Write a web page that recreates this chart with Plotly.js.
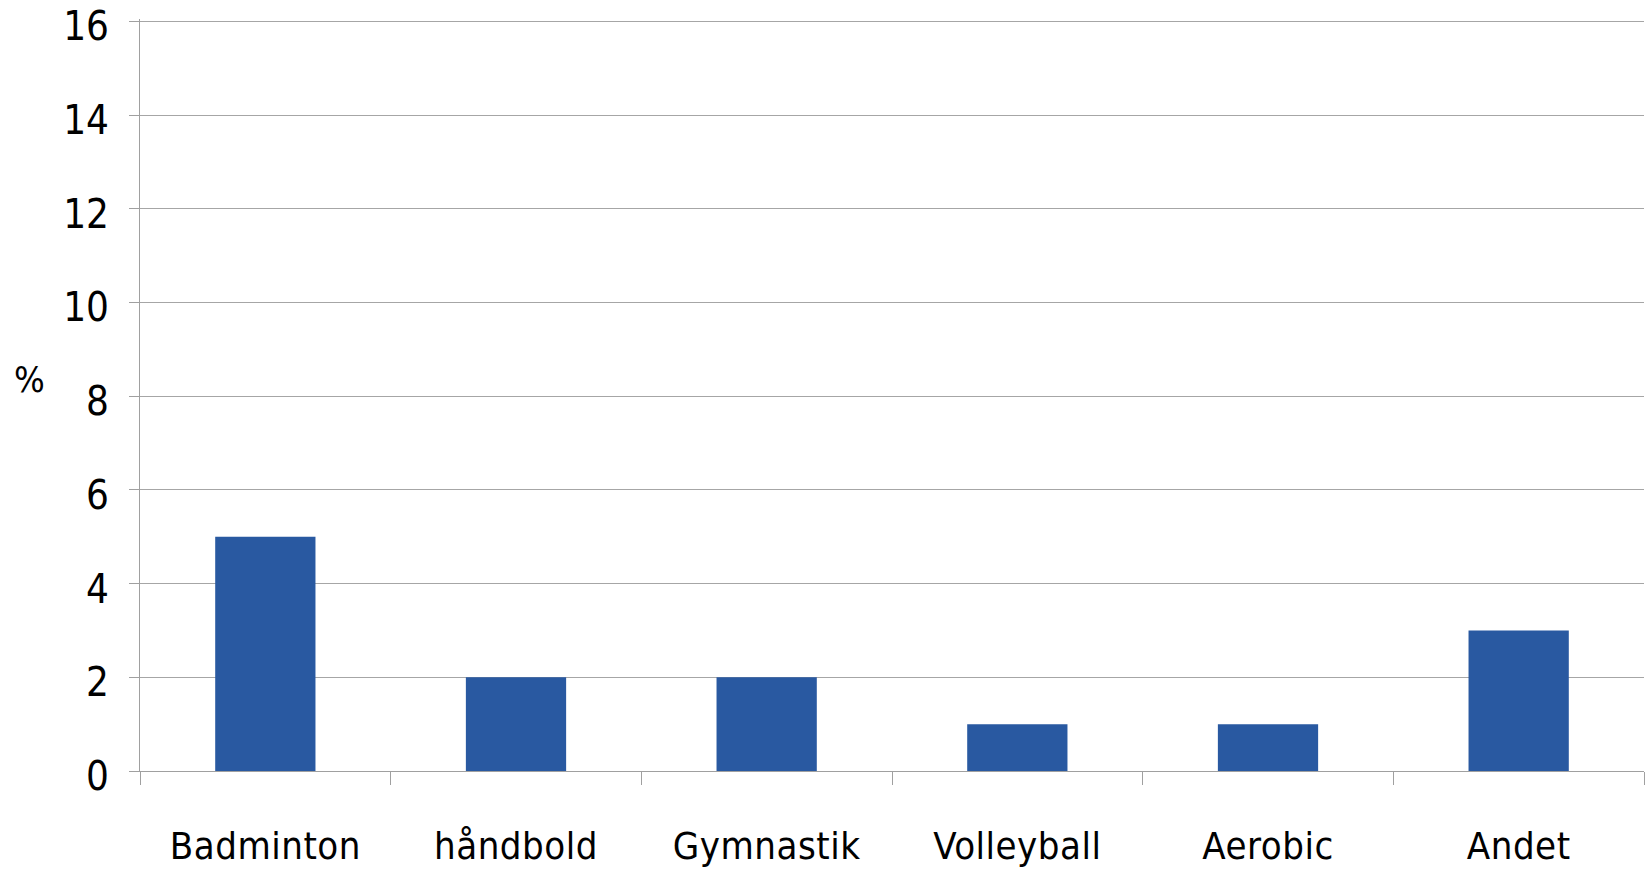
<!DOCTYPE html>
<html>
<head>
<meta charset="utf-8">
<script src="https://cdn.plot.ly/plotly-3.0.1.min.js"></script>
<style>
  html, body { margin: 0; padding: 0; background: #fff; }
  #plot { width: 1650px; height: 871px; }
  /* the original labels are slightly letter-spaced */
  #plot .xtick text { letter-spacing: 0.5px; }
</style>
</head>
<body>
<div id="plot"></div>
<script>
// categories and values (percent)
let arrSports = ["Badminton", "håndbold", "Gymnastik", "Volleyball", "Aerobic", "Andet"];
let arrPct = [5, 2, 2, 1, 1, 3];
let arrYTicks = [0, 2, 4, 6, 8, 10, 12, 14, 16];

let strFont = "'DejaVu Sans Condensed', 'DejaVu Sans', sans-serif";

let objTrace = {
  x: arrSports,
  y: arrPct,
  type: "bar",
  marker: { color: "#2959A1" },
  hoverinfo: "x+y"
};

let layout = {
  width: 1650,
  height: 871,
  margin: { l: 140, r: 6, t: 19, b: 100 },
  paper_bgcolor: "#ffffff",
  plot_bgcolor: "#ffffff",
  bargap: 0.6,
  showlegend: false,
  font: { family: strFont, color: "#000000", size: 38 },
  xaxis: {
    type: "category",
    showline: true,
    linecolor: "#A0A0A0",
    linewidth: 1,
    ticks: "outside",
    tickson: "boundaries",
    ticklen: 13,
    tickcolor: "#A0A0A0",
    showgrid: false,
    ticklabelstandoff: 41,
    tickfont: { family: strFont, size: 38, color: "#000" }
  },
  yaxis: {
    range: [0, 16.05],
    tickvals: arrYTicks,
    showline: true,
    linecolor: "#A0A0A0",
    linewidth: 1,
    ticks: "outside",
    ticklen: 10,
    tickcolor: "#A0A0A0",
    showgrid: true,
    gridcolor: "#A6A6A6",
    gridwidth: 1,
    zeroline: false,
    ticklabelstandoff: 12,
    ticklabeloverflow: "allow",
    tickfont: { family: strFont, size: 40, color: "#000" }
  },
  annotations: [{
    text: "%",
    xref: "paper",
    yref: "paper",
    x: -0.0732,
    y: 0.52,
    xanchor: "center",
    yanchor: "middle",
    showarrow: false,
    font: { family: strFont, size: 36, color: "#000" }
  }]
};

Plotly.newPlot("plot", [objTrace], layout, { displayModeBar: false, staticPlot: true }).then(gd => {
  // in the original the y labels sit a few px below their gridlines
  gd.querySelectorAll(".ytick text").forEach(t => {
    t.setAttribute("y", (parseFloat(t.getAttribute("y")) || 0) + 5);
  });
});
</script>
</body>
</html>
